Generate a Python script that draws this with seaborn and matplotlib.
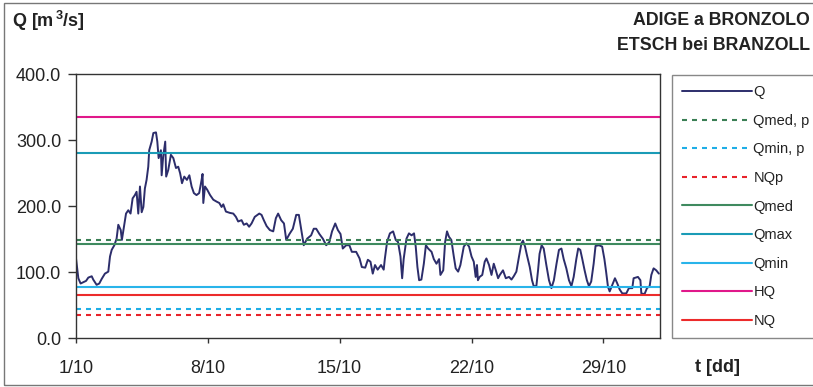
import matplotlib
matplotlib.use("Agg")
import matplotlib.pyplot as plt
import seaborn as sns
import pandas as pd
from matplotlib.patches import Rectangle

# ---- data ----
q_day = [0.00, 0.14, 0.26, 0.55, 0.67, 0.85, 0.93, 1.11, 1.25, 1.38, 1.55, 1.73, 1.82, 1.91,
         2.05, 2.17, 2.26, 2.39, 2.45, 2.56, 2.67, 2.79, 2.91, 3.02, 3.14, 3.23, 3.32, 3.41,
         3.50, 3.59, 3.67, 3.76, 3.85, 3.90, 4.03, 4.12, 4.26, 4.33, 4.40, 4.52, 4.56, 4.64,
         4.75, 4.80, 4.91, 5.05, 5.18, 5.32, 5.44, 5.54, 5.64, 5.76, 5.90, 6.03, 6.15, 6.27,
         6.41, 6.55, 6.68, 6.73, 6.77, 6.86, 6.98, 7.13, 7.30, 7.48, 7.62, 7.74, 7.83, 7.97,
         8.18, 8.36, 8.50, 8.62, 8.80, 8.92, 9.07, 9.20, 9.33, 9.50, 9.74, 9.86, 9.98, 10.13,
         10.30, 10.48, 10.62, 10.74, 10.90, 11.05, 11.17, 11.34, 11.52, 11.70, 11.84, 11.93,
         12.10, 12.28, 12.49, 12.63, 12.76, 12.93, 13.11, 13.29, 13.46, 13.60, 13.77, 13.91,
         14.05, 14.17, 14.35, 14.52, 14.65, 14.88, 15.06, 15.18, 15.36, 15.50, 15.64, 15.76,
         15.88, 16.02, 16.20, 16.34, 16.40, 16.52, 16.67, 16.84, 16.98, 17.10, 17.23, 17.32,
         17.40, 17.55, 17.68, 17.82, 17.95, 18.04, 18.13, 18.22, 18.34, 18.47, 18.58, 18.70,
         18.88, 19.00, 19.14, 19.28, 19.35, 19.50, 19.60, 19.70, 19.80, 19.93, 20.06, 20.16,
         20.29, 20.41, 20.59, 20.73, 20.87, 21.00, 21.12, 21.22, 21.29, 21.34, 21.43, 21.57,
         21.70, 21.79, 21.93, 22.06, 22.18, 22.29, 22.41, 22.50, 22.67, 22.82, 22.99, 23.12,
         23.24, 23.38, 23.52, 23.65, 23.73, 23.84, 23.94, 24.09, 24.21, 24.30, 24.44, 24.53,
         24.61, 24.72, 24.83, 24.97, 25.11, 25.24, 25.37, 25.51, 25.64, 25.77, 25.89, 26.03,
         26.17, 26.30, 26.42, 26.56, 26.66, 26.77, 26.87, 27.00, 27.12, 27.23, 27.35, 27.48,
         27.58, 27.76, 27.93, 28.05, 28.14, 28.24, 28.33, 28.47, 28.61, 28.72, 28.86, 29.00,
         29.21, 29.35, 29.53, 29.60, 29.83, 29.96, 30.01, 30.18, 30.31, 30.45, 30.54, 30.66,
         30.80, 30.94]
q_val = [125, 91, 83, 87, 92, 94, 89, 81, 83, 90, 98, 101, 124, 134,
         141, 151, 172, 164, 149, 169, 189, 194, 189, 212, 217, 222, 189, 230,
         191, 199, 227, 240, 260, 285, 298, 311, 312, 298, 273, 285, 247, 275,
         298, 245, 255, 278, 273, 258, 260, 250, 235, 245, 240, 247, 230, 220,
         217, 220, 240, 249, 205, 230, 225, 217, 210, 207, 205, 199, 203, 192,
         190, 189, 184, 177, 179, 172, 174, 169, 174, 184, 189, 187, 179, 170,
         164, 162, 182, 189, 179, 174, 149, 158, 166, 187, 187, 171,
         141, 151, 156, 166, 166, 158, 151, 141, 146, 162, 174, 164,
         158, 136, 141, 141, 131, 131, 121, 108, 107, 119, 116, 98,
         111, 104, 111, 104, 120, 146, 159, 162, 149, 146, 124, 91,
         120, 151, 159, 156, 159, 139, 108, 88, 89, 113, 141, 136,
         131, 120, 113, 120, 96, 103, 146, 162, 154, 149, 124, 106,
         101, 111, 139, 144, 139, 124, 116, 93, 111, 88, 93, 96,
         116, 121, 111, 96, 113, 103, 91, 96, 103, 91, 93, 89,
         94, 101, 124, 144, 148, 139, 126, 108, 88, 79, 79, 103,
         128, 141, 136, 111, 88, 76, 88, 113, 134, 136, 120, 106,
         88, 79, 93, 120, 136, 134, 121, 103, 88, 79, 86, 113,
         140, 141, 139, 120, 101, 78, 71, 81, 91, 84, 74, 68,
         68, 76, 76, 91, 93, 88, 68, 67, 76, 79, 96, 106,
         103, 98]

ref_names = ["Qmed, p", "Qmin, p", "NQp", "Qmed", "Qmax", "Qmin", "HQ", "NQ"]
ref_values = [149, 45, 36, 143, 281, 78, 335, 65]

tick_days = [0, 7, 14, 21, 28]
tick_labels = ["1/10", "8/10", "15/10", "22/10", "29/10"]
y_ticks = [0, 100, 200, 300, 400]

# ---- styles ----
ref_colors = ["#3b7f55", "#1eaee6", "#e8232b", "#3f8a5f", "#1a9bb6", "#29b4ea", "#e0188a", "#ec2b2b"]
ref_dashed = [True, True, True, False, False, False, False, False]
q_color = "#2c2d6b"

sns.set_style("white")
plt.rcParams["font.family"] = ["Liberation Sans", "DejaVu Sans"]
plt.rcParams["mathtext.fontset"] = "custom"
plt.rcParams["mathtext.rm"] = "Liberation Sans"
plt.rcParams["mathtext.bf"] = "Liberation Sans:bold"

W, H = 813, 387
fig = plt.figure(figsize=(W / 100, H / 100), dpi=100)
ax = fig.add_axes([75.7 / W, 1 - 338.3 / H, (660 - 75.7) / W, (338.3 - 74.3) / H])

df = pd.DataFrame({"day": q_day, "Q": q_val})
sns.lineplot(data=df, x="day", y="Q", ax=ax, color=q_color, lw=1.4, label="Q",
             sort=False, estimator=None)

for name, val, col, dsh in zip(ref_names, ref_values, ref_colors, ref_dashed):
    if dsh:
        ax.axhline(val, color=col, lw=1.5, linestyle=(0, (2.4, 2.4)), label=name)
    else:
        ax.axhline(val, color=col, lw=1.5, label=name)

ax.set_xlim(0, 31)
ax.set_ylim(0, 400)
ax.set_xticks(tick_days)
ax.set_xticklabels(tick_labels)
ax.set_yticks(y_ticks)
ax.set_yticklabels([f"{v:.1f}" for v in y_ticks])
ax.set_xlabel("")
ax.set_ylabel("")
for s in ax.spines.values():
    s.set_color("#333333")
    s.set_linewidth(1.0)
    s.set_visible(True)
ax.tick_params(axis="both", direction="out", width=1, color="#333333",
               labelsize=13, labelcolor="#222222", left=True, bottom=True)
ax.tick_params(axis="x", length=3.6, pad=12)
ax.tick_params(axis="y", length=5.5, pad=5)

handles, labels = ax.get_legend_handles_labels()
leg = ax.legend(handles, labels, loc="upper left", bbox_to_anchor=(672 / W, 1 - 75 / H),
                bbox_transform=fig.transFigure, frameon=True, fancybox=False,
                framealpha=1, edgecolor="#888888", fontsize=10.5, labelspacing=1.0,
                handlelength=4.8, handletextpad=0.08, borderpad=0.7, borderaxespad=0)
leg.get_frame().set_linewidth(1.0)
for t in leg.get_texts():
    t.set_color("#222222")

fig.text(12 / W, 1 - 20.5 / H, r"Q [m$^{\,\mathbf{3}}$/s]", ha="left", va="center", fontsize=13,
         fontweight="bold", color="#222222")
fig.text(810 / W, 1 - 20.5 / H, "ADIGE a BRONZOLO", ha="right", va="center", fontsize=12.8,
         fontweight="bold", color="#222222")
fig.text(810 / W, 1 - 45 / H, "ETSCH bei BRANZOLL", ha="right", va="center", fontsize=12.8,
         fontweight="bold", color="#222222")
fig.text(695 / W, 1 - 367 / H, "t [dd]", ha="left", va="center", fontsize=13,
         fontweight="bold", color="#222222")

fig.patches.append(Rectangle((4 / W, 2 / H), 1.0, 1 - 5 / H, transform=fig.transFigure,
                             fill=False, edgecolor="#777777", lw=1.0))

fig.savefig("out.png", dpi=100)
